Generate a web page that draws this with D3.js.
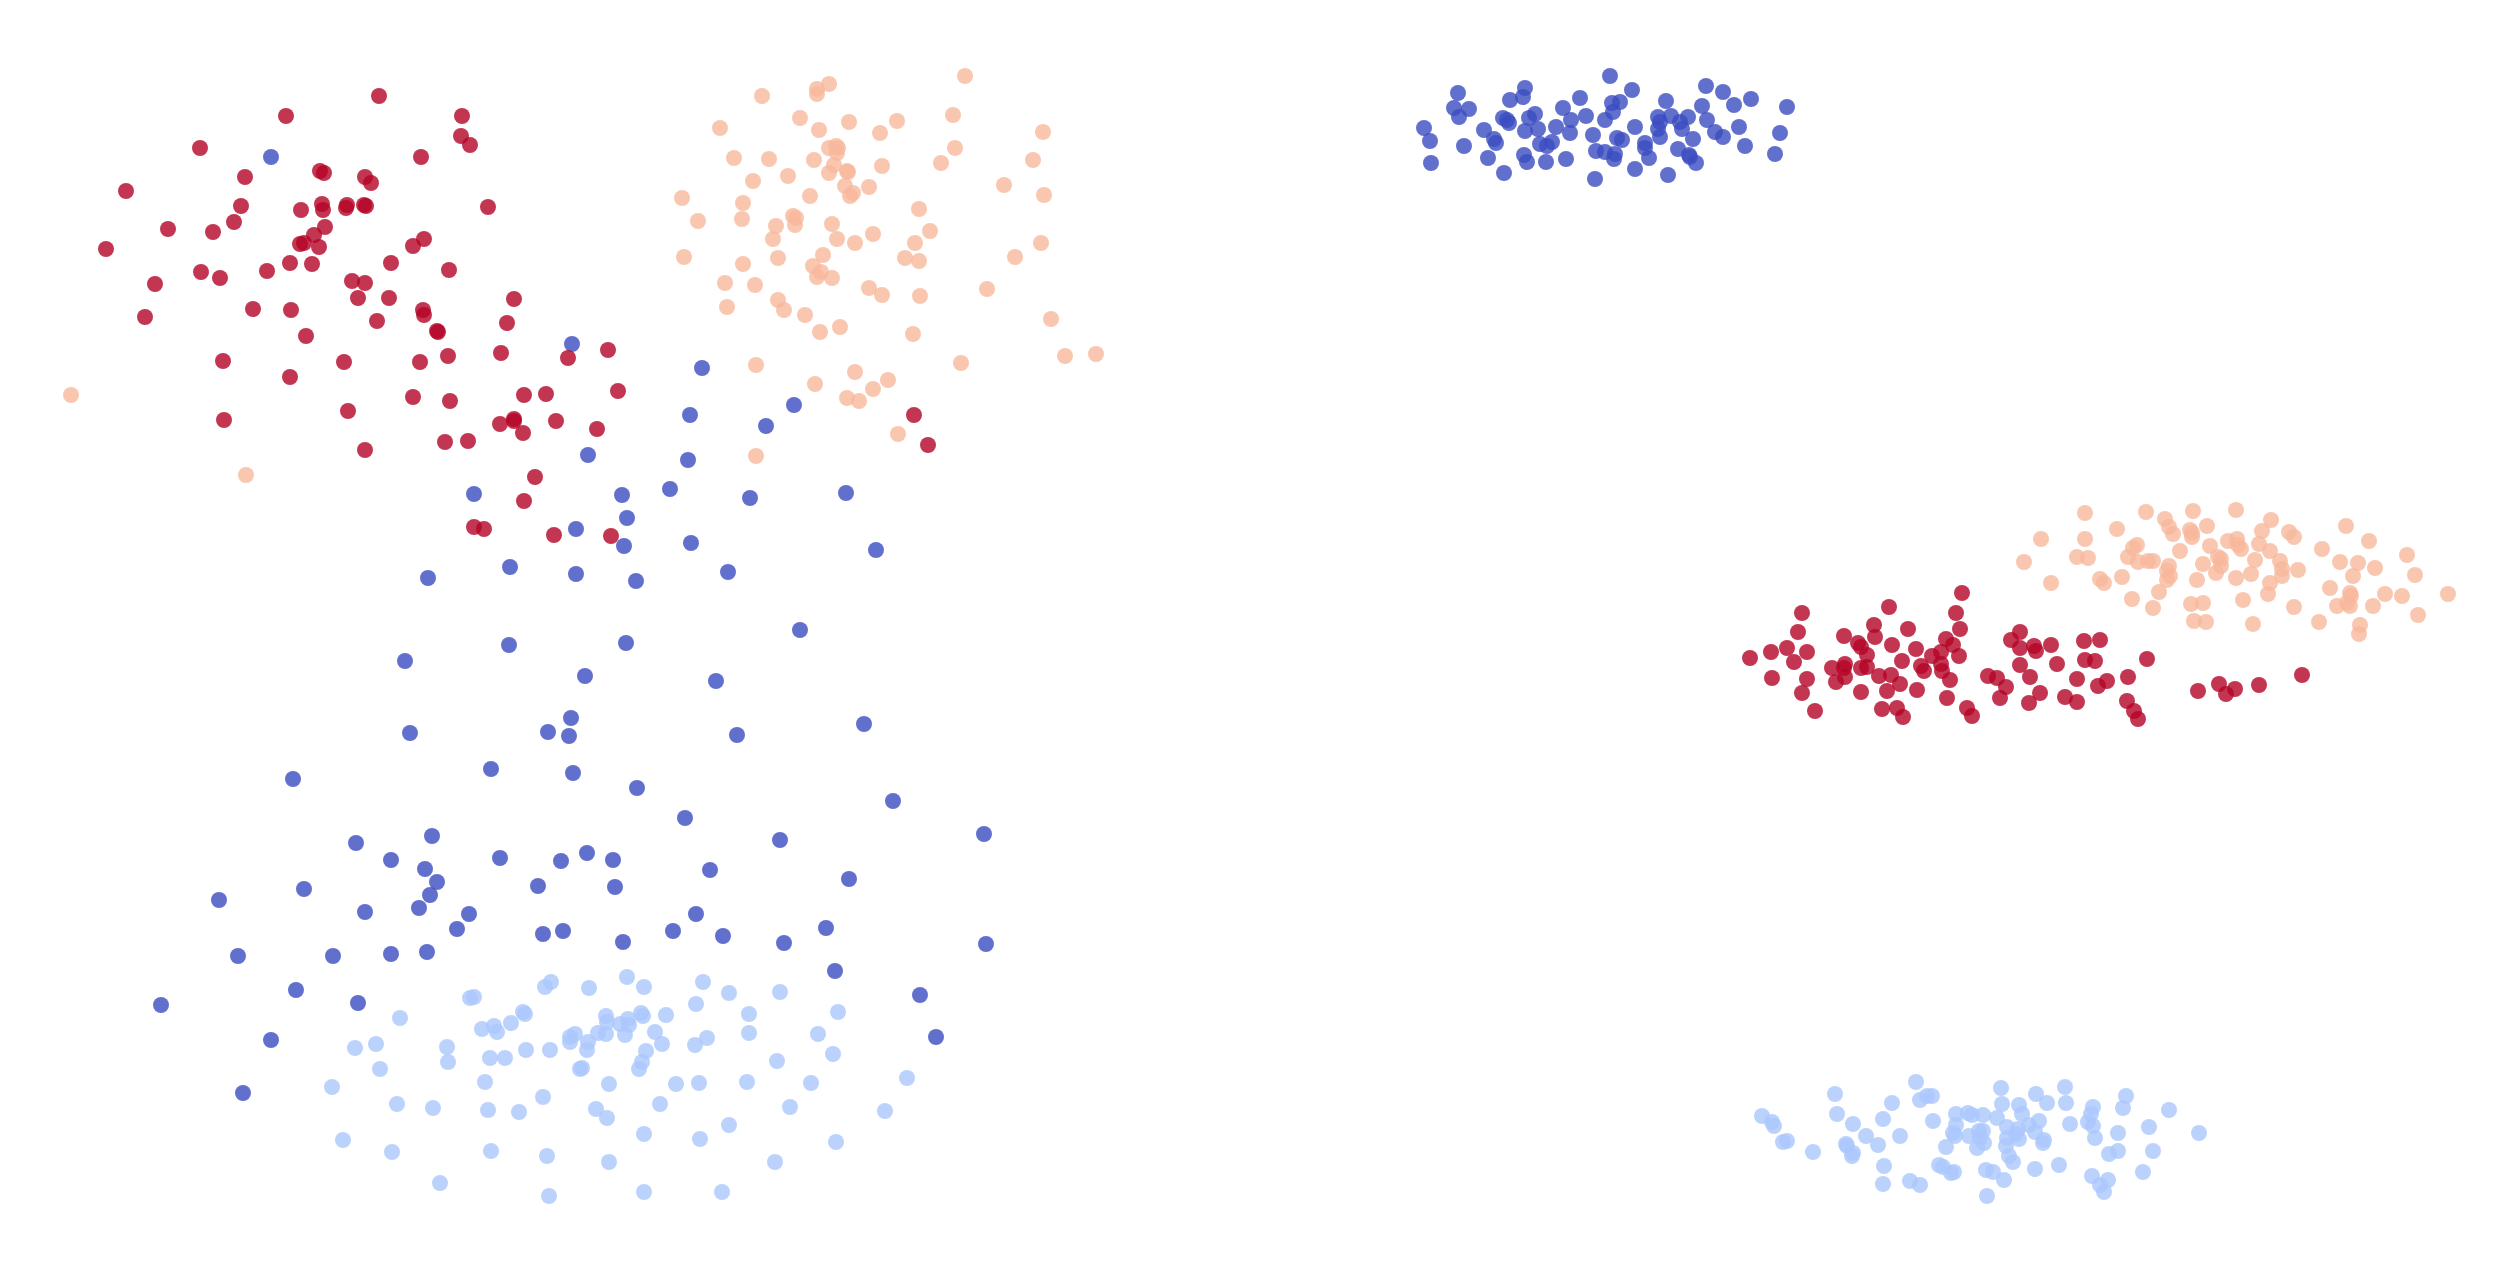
<!DOCTYPE html>
<html>
<head>
<meta charset="utf-8">
<script src="https://d3js.org/d3.v7.min.js"></script>
<style>
body {
  margin: 0;
  background-color: #ffffff;
  overflow: hidden;
}
</style>
</head>
<body>
<svg id="vis" width="2519" height="1272"></svg>
<script>
// embedding coordinates, one list per cluster label
// left panel
var leftDark = [[271,157],[572,344],[588,455],[474,494],[576,529],[428,578],[510,567],[576,574],[509,645],[405,661],[585,676],[571,718],[702,368],[794,405],[690,415],[766,426],[688,460],[622,495],[670,489],[750,498],[846,493],[627,518],[624,546],[691,543],[876,550],[636,581],[728,572],[800,630],[626,643],[716,681],
  [410,733],[548,732],[569,736],[293,779],[491,769],[573,773],[356,843],[432,836],[391,860],[425,869],[437,882],[430,895],[419,908],[500,858],[561,861],[587,853],[613,860],[538,886],[615,887],[304,889],[219,900],[365,912],[469,914],[457,929],[543,934],[563,931],[238,956],[333,956],[391,954],[427,952],[296,990],[358,1003],[161,1005],[271,1040],[243,1093],
  [737,735],[864,724],[637,788],[893,801],[685,818],[780,840],[984,834],[710,870],[849,879],[696,914],[623,942],[673,931],[723,936],[784,943],[826,928],[986,944],[835,971],[920,995],[936,1037]];

var leftLight = [[551,982],[545,987],[589,988],[470,998],[474,997],[400,1018],[523,1012],[525,1014],[606,1016],[607,1022],[511,1023],[482,1029],[494,1026],[497,1032],[570,1037],[575,1034],[570,1042],[598,1033],[606,1034],[588,1042],[587,1050],[355,1048],[376,1044],[447,1047],[448,1062],[380,1069],[490,1058],[505,1058],[526,1050],[550,1050],[582,1068],[580,1069],[332,1087],[485,1082],[609,1084],[397,1104],[433,1108],[488,1110],[519,1112],[543,1097],[596,1109],[607,1118],[343,1140],[392,1152],[491,1151],[547,1156],[609,1162],[440,1183],[549,1196],
  [627,977],[644,987],[703,982],[729,993],[780,992],[696,1004],[749,1014],[838,1012],[620,1024],[628,1019],[629,1025],[641,1013],[643,1016],[666,1015],[625,1035],[655,1032],[662,1044],[646,1051],[642,1062],[639,1069],[695,1045],[707,1038],[749,1033],[818,1034],[833,1054],[777,1061],[676,1084],[699,1083],[747,1082],[811,1083],[907,1078],[660,1104],[790,1107],[885,1111],[729,1125],[644,1134],[700,1139],[836,1142],[775,1162],[644,1192],[722,1192]];

var leftPeach = [[71,395],[246,475],
  [965,76],[762,96],[817,89],[817,94],[829,84],[800,118],[720,128],[819,130],[849,122],[897,121],[880,133],[953,115],[1043,132],[734,158],[769,159],[814,160],[829,148],[836,146],[838,148],[837,153],[834,165],[829,173],[847,171],[848,172],[882,166],[955,148],[941,163],[1033,160],[753,181],[788,176],[845,186],[853,193],[850,196],[869,187],[810,196],[1004,185],[1044,195],[682,198],[743,203],[742,219],[698,221],[793,216],[796,218],[795,225],[776,226],[832,224],[919,209],[930,231],[873,234],[773,239],[837,239],[855,243],[915,243],[1041,243],[684,257],[778,258],[823,255],[905,258],[919,261],[1015,257],[743,264],[813,266],[821,272],[817,277],[832,278],[725,283],[755,285],[869,288],[882,295],[920,296],[987,289],[727,307],[778,300],[784,310],[805,315],[820,332],[840,327],[913,334],[1051,319],[961,363],[1065,356],[1096,354],[756,365],[855,372],[815,384],[888,380],[873,389],[847,398],[859,401],[898,434],[756,456]];

var leftRed = [[379,96],[286,116],[462,116],[461,136],[470,145],[200,148],[421,157],[245,177],[320,171],[324,173],[365,177],[371,183],[126,191],[241,206],[301,210],[322,204],[323,210],[347,205],[346,208],[364,205],[366,206],[488,207],[234,222],[168,229],[213,232],[325,227],[314,235],[300,244],[304,243],[319,247],[424,239],[413,246],[106,249],[290,263],[312,264],[391,263],[449,270],[201,272],[220,278],[267,271],[155,284],[352,281],[365,283],[358,298],[389,298],[514,299],[253,309],[291,310],[423,310],[424,315],[145,317],[377,321],[507,323],[306,336],[437,331],[438,332],[608,350],[501,353],[568,358],[223,361],[344,362],[420,362],[448,356],[290,377],[413,397],[450,401],[524,395],[546,394],[348,411],[224,420],[500,424],[514,419],[514,421],[523,433],[556,421],[597,429],[365,450],[445,442],[468,441],[535,477],[524,501],[474,527],[484,529],[554,535],[611,536],[618,391],[914,415],[928,445]];

// right panel
var rightDark = [[1610,76],[1458,93],[1525,88],[1523,97],[1510,100],[1632,90],[1706,86],[1723,92],[1751,99],[1787,107],[1580,98],[1612,103],[1620,102],[1666,101],[1702,106],[1734,105],[1454,108],[1469,109],[1459,117],[1563,108],[1613,112],[1535,114],[1529,118],[1503,118],[1507,120],[1509,123],[1586,116],[1605,120],[1571,120],[1658,117],[1660,122],[1671,116],[1688,117],[1680,122],[1707,120],[1424,128],[1484,130],[1525,131],[1538,129],[1556,127],[1570,133],[1593,135],[1635,127],[1658,129],[1660,137],[1682,129],[1715,132],[1723,137],[1739,127],[1780,133],[1430,141],[1494,139],[1496,143],[1464,146],[1540,144],[1552,142],[1547,146],[1617,138],[1622,140],[1645,143],[1645,148],[1693,139],[1745,146],[1678,149],[1596,151],[1605,152],[1615,154],[1614,159],[1488,158],[1524,155],[1527,162],[1546,162],[1566,159],[1649,158],[1689,155],[1690,157],[1696,163],[1775,154],[1431,163],[1504,173],[1635,169],[1595,179],[1668,175]];

var rightLight = [[1916,1082],[1835,1094],[1892,1103],[1920,1100],[1927,1096],[1932,1096],[2001,1088],[2036,1094],[2065,1087],[2126,1096],[2002,1104],[2019,1105],[2047,1103],[2066,1103],[2093,1107],[2123,1108],[2169,1110],[1762,1116],[1837,1114],[1956,1114],[1968,1113],[1972,1115],[1983,1115],[2022,1114],[2091,1114],[1772,1122],[1774,1126],[1853,1124],[1883,1119],[1933,1121],[1956,1125],[1997,1118],[2039,1121],[2029,1125],[2070,1124],[2088,1122],[2093,1126],[2149,1127],[2199,1133],[2007,1127],[1953,1133],[1955,1136],[1979,1131],[1983,1131],[1969,1136],[1980,1138],[2018,1129],[2016,1134],[2035,1132],[2019,1139],[2007,1138],[2044,1140],[2043,1143],[1866,1136],[1900,1136],[2118,1133],[2095,1138],[1783,1142],[1787,1141],[1846,1144],[1847,1146],[1878,1145],[1946,1147],[1984,1143],[1977,1148],[2006,1146],[1813,1152],[1853,1153],[1852,1156],[2109,1154],[2118,1151],[2153,1151],[2009,1156],[2013,1162],[1884,1166],[1939,1165],[1943,1167],[1951,1173],[1954,1172],[1986,1170],[1993,1172],[2035,1169],[2059,1165],[2143,1172],[2092,1176],[2108,1180],[2100,1185],[2104,1192],[1883,1184],[1910,1181],[1920,1185],[2004,1180],[1987,1196]];

var rightPeach = [[2085,513],[2146,512],[2193,511],[2236,510],[2271,520],[2346,526],[2041,539],[2085,539],[2117,529],[2165,519],[2169,527],[2173,534],[2190,530],[2192,533],[2192,537],[2207,526],[2262,531],[2289,532],[2294,537],[2369,541],[2024,562],[2077,557],[2088,558],[2137,545],[2133,548],[2128,557],[2138,562],[2148,561],[2153,561],[2180,551],[2210,546],[2228,541],[2237,539],[2238,545],[2241,549],[2259,544],[2270,551],[2322,549],[2218,557],[2221,559],[2255,560],[2280,561],[2203,564],[2169,566],[2167,571],[2221,566],[2340,562],[2358,563],[2375,568],[2407,555],[2282,569],[2298,570],[2051,583],[2100,579],[2104,583],[2122,577],[2170,576],[2167,580],[2197,580],[2216,573],[2236,578],[2251,574],[2282,576],[2270,583],[2353,576],[2415,575],[2159,592],[2132,599],[2268,594],[2330,588],[2350,593],[2385,594],[2402,596],[2448,594],[2153,608],[2191,604],[2203,603],[2243,600],[2294,607],[2337,606],[2347,603],[2351,596],[2350,606],[2373,606],[2194,621],[2206,622],[2253,624],[2319,622],[2360,625],[2359,634],[2418,615]];

var rightRed = [[1962,593],[1889,607],[1802,613],[1956,613],[1798,632],[1874,625],[1908,629],[1960,629],[2020,632],[1844,636],[1875,637],[1946,639],[2011,640],[2084,641],[2100,640],[1787,648],[1771,652],[1807,652],[1858,643],[1861,647],[1892,645],[1916,649],[1953,645],[2020,648],[2034,646],[2036,651],[2051,645],[1750,658],[1794,662],[1867,655],[1902,661],[1932,656],[1941,652],[1959,656],[2085,660],[2095,661],[2147,659],[1832,668],[1845,664],[1844,668],[1861,668],[1867,667],[1921,666],[1924,671],[1941,664],[1942,671],[2020,665],[2057,664],[1772,678],[1807,679],[1836,682],[1845,677],[1879,676],[1891,675],[1900,684],[1950,680],[1988,676],[1997,678],[2030,677],[2077,679],[2107,681],[2098,686],[2128,677],[2219,684],[2235,689],[2226,694],[2259,685],[2302,675],[2198,691],[1802,693],[1861,692],[1887,691],[1917,690],[2006,687],[2040,693],[2000,698],[1947,698],[2029,703],[2065,697],[2077,702],[2127,701],[1815,711],[1882,709],[1897,708],[1903,717],[1967,708],[1972,716],[2134,711],[2138,719]];

// coolwarm colours for the 4 labels
var labelColors = ["#3b4cc0", "#aac7fd", "#f7b89c", "#b40426"];

var svg = d3.select("svg"),
    width = +svg.attr("width"),
    height = +svg.attr("height");

var x = d3.scaleLinear().domain([0, 2519]).range([0, width]);
var y = d3.scaleLinear().domain([0, 1272]).range([0, height]);

var panels = [
  [leftDark, leftLight, leftPeach, leftRed],
  [rightDark, rightLight, rightPeach, rightRed]
];

panels.forEach(function(groups, p) {
  var g = svg.append("g").attr("class", "panel panel-" + p);
  groups.forEach(function(pts, k) {
    g.selectAll("circle.c" + k)
      .data(pts)
      .enter()
      .append("circle")
      .attr("class", "c" + k)
      .attr("cx", function(d) { return x(d[0]); })
      .attr("cy", function(d) { return y(d[1]); })
      .attr("r", 8)
      .attr("fill", labelColors[k])
      .attr("fill-opacity", 0.8);
  });
});
</script>
</body>
</html>
